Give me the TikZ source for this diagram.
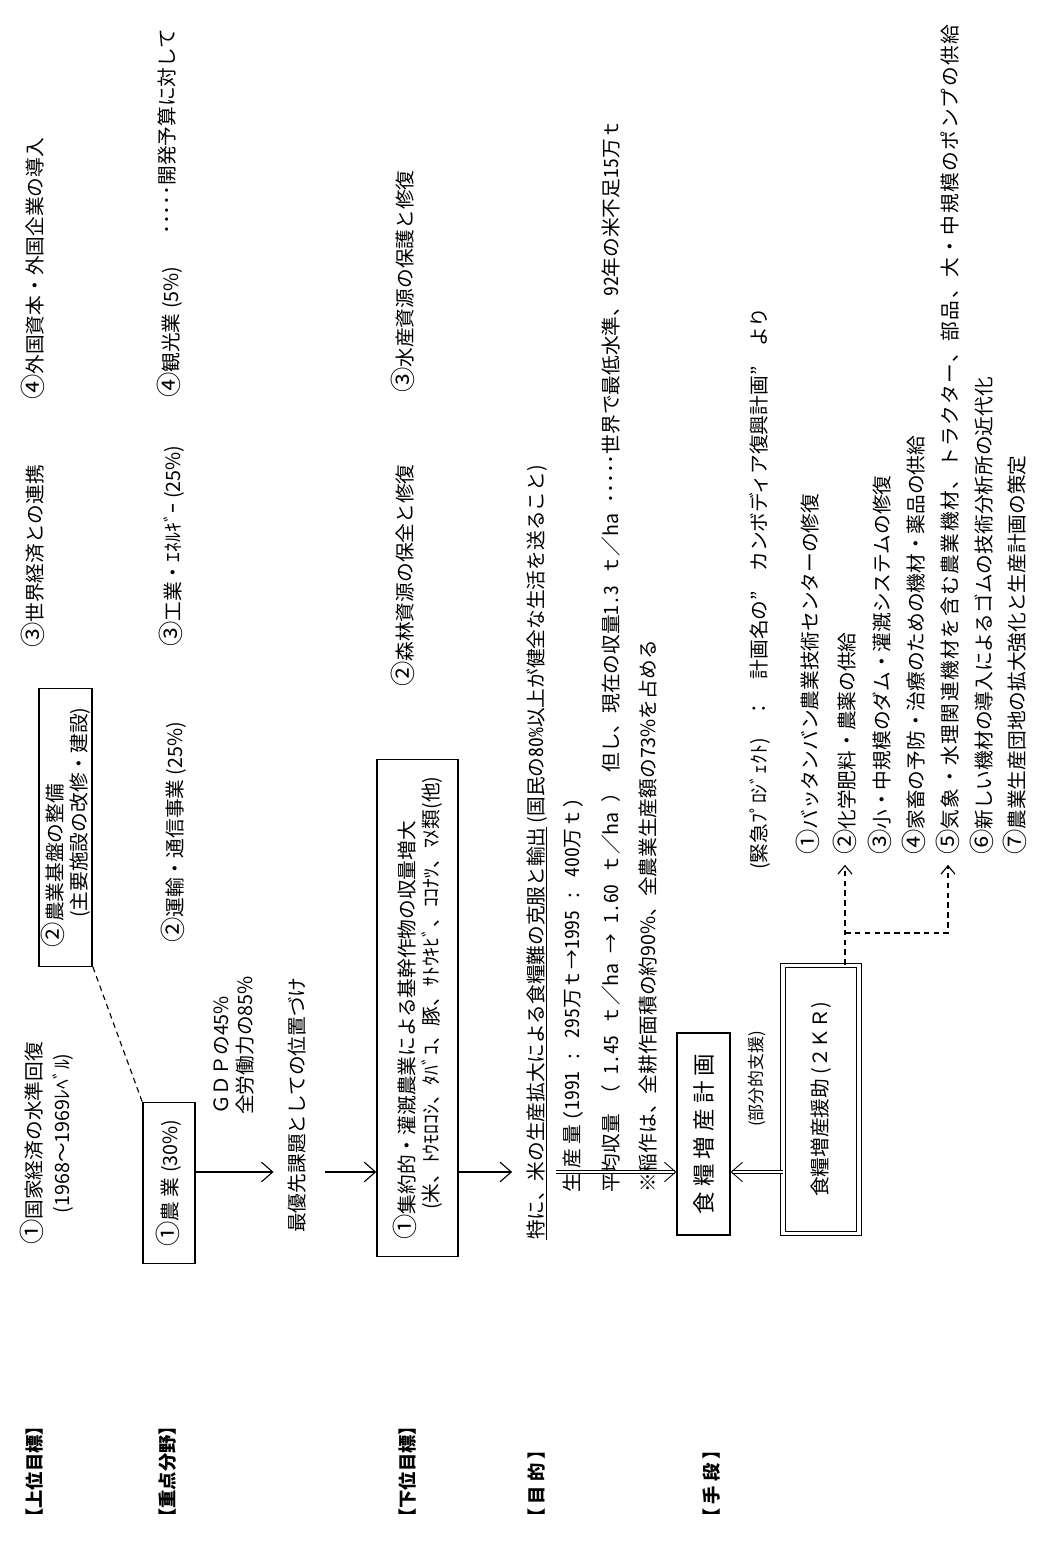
\documentclass[tikz,border=0pt]{standalone}
\usepackage{fontspec}
\setmainfont{Noto Sans CJK JP}
\newfontfamily\halfwidth{Noto Sans CJK JP}[CharacterWidth=Half]
\newfontfamily\widefont{Noto Sans CJK JP}[LetterSpace=8]
\newcommand{\hwd}[1]{{\halfwidth #1}}
\newcommand{\cn}[1]{{\fontsize{18}{18}\selectfont #1}}
\usepackage{tikz}
\usetikzlibrary{positioning, arrows.meta, calc}

\begin{document}
\begin{tikzpicture}[
    x=0.025cm, y=0.025cm,
    rotate=90, transform shape,
    every node/.style={align=left, inner sep=0pt, anchor=west, font=\fontsize{14}{19.9}\selectfont},
    rowlabel/.style={font=\fontsize{13}{15}\selectfont\bfseries},
    goalbox/.style={draw, rectangle, line width=1pt, inner xsep=12pt, inner ysep=1.5pt, font=\fontsize{14}{17}\selectfont},
    aidbox/.style={draw, rectangle, double, double distance=2.2pt, line width=0.7pt, anchor=center},
    arrow/.style={-{Straight Barb[length=8pt, width=14pt]}, line width=0.8pt},
    dblarrow/.style={-{Straight Barb[length=8pt, width=14pt]}, double, double distance=1.5pt, line width=0.6pt},
    dasharrow/.style={-{Straight Barb[length=6pt, width=10pt]}, line width=0.8pt, dash pattern=on 4pt off 3pt},
]
% page frame (the sheet lies on its side)
\fill[white] (0,0) rectangle (1545,-1038);
\useasboundingbox (0,0) rectangle (1545,-1038);
\coordinate (axis) at (373,0);

% Row labels
\node[rowlabel] (lupper) at (18,-35) {【上位目標】};
\node[rowlabel] (lfocus) at (18,-168) {【重点分野】};
\node[rowlabel] (llower) at (18,-408) {【下位目標】};
\node[rowlabel] (laim) at (18,-537) {【 目 的 】};
\node[rowlabel] (lmeans) at (18,-712) {【 手 段 】};

% Upper goals
\node (economy) at (300,-47) {\cn{①}国家経済の水準回復\\\hspace*{1.6em}(1968～1969ﾚﾍﾞﾙ)};
\node[goalbox, inner xsep=13.5pt] (base) at (578,-65.5) {\cn{②}農業基盤の整備\\\hspace*{1.5em}(主要施設の改修・建設)};
\node (world) at (897,-33) {\cn{③}世界経済との連携};
\node (invest) at (1145,-33) {\cn{④}外国資本・外国企業の導入};

% Priority sectors
\node[goalbox, anchor=center, minimum width=3.75cm, minimum height=1.3cm] (agri) at (362,-169) {\cn{①}農 業 (30\%)};
\node[font=\fontsize{14}{17}\selectfont] (gdp) at (430,-234) {ＧＤＰの45\%\\全労働力の85\%};
\node (transport) at (602,-174) {\cn{②}運輸・通信事業 (25\%)};
\node (industry) at (898,-172) {\cn{③}工業・ｴﾈﾙｷﾞｰ (25\%)};
\node (tourism) at (1147,-170) {\cn{④}観光業 (5\%)};
\node (budget) at (1310,-167) {･････開発予算に対して};
\node (prio) at (312,-297) {最優先課題としての位置づけ};

% Lower goals
\node[goalbox, minimum height=2.025cm] (lower) at (288,-417.5) {\cn{①}集約的・灌漑農業による基幹作物の収量増大\\\hspace*{1.5em}(米、ﾄｳﾓﾛｺｼ、ﾀﾊﾞｺ、豚、ｻﾄｳｷﾋﾞ、ｺｺﾅﾂ、ﾏﾒ類(他)};
\node (forest) at (858,-403) {\cn{②}森林資源の保全と修復};
\node (fishery) at (1152,-403) {\cn{③}水産資源の保護と修復};

% Purpose
\node (purpose) at (305,-537) {\underline{特に、米の生産拡大による食糧難の克服と輸出} (国民の\hwd{80\%}以上が健全な生活を送ること)};
\node (output) at (352,-573) {生 産 量 \hwd{(1991 : 295}万ｔ→\hwd{1995 : 400}万ｔ\hwd{)}};
\node (yield) at (352,-611) {平均収量\hwd{ }（\hwd{ 1.45 }ｔ／ha\hwd{ }→\hwd{ 1.60 }ｔ／ha\hwd{ }）\hwd{ }但し、現在の収量\hwd{1.3 }ｔ／ha\hwd{ ･････}世界で最低水準、\hwd{92}年の米不足\hwd{15}万ｔ};
\node (rice) at (352,-648) {※稲作は、全耕作面積の約90\%、全農業生産額の73\%を占める};

% Means
\node[goalbox, anchor=center, minimum width=5.05cm, minimum height=1.325cm, font=\fontsize{16}{19}\selectfont] (plan) at (411,-703.5) {食 糧 増 産 計 画};
\node[font=\fontsize{12}{14}\selectfont] (partial) at (418,-757) {(部分的支援)};
\node[aidbox, minimum width=6.7cm, minimum height=1.9cm] (kr) at (445.5,-821) {食糧増産援助 (２ＫＲ)};
\node (emergency) at (675,-760) {(緊急ﾌﾟﾛｼﾞｪｸﾄ)　：　計画名の"　カンボディア復興計画"　より};
\node (centre) at (690,-808) {\cn{①}バッタンバン農業技術センターの修復};
\node (fert) at (690,-845) {\cn{②}化学肥料・農薬の供給};
\node (dam) at (690,-880) {\cn{③}小・中規模のダム・灌漑システムの修復};
\node (vet) at (690,-914) {\cn{④}家畜の予防・治療のための機材・薬品の供給};
\node (machine) at (690,-948) {\widefont\cn{⑤}気象・水理関連機材を含む農業機材、トラクター、部品、大・中規模のポンプの供給};
\node (rubber) at (690,-982) {\cn{⑥}新しい機材の導入によるゴムの技術分析所の近代化};
\node (stats) at (690,-1015) {\cn{⑦}農業生産団地の拡大強化と生産計画の策定};

% Connectors
\draw[line width=0.8pt, dash pattern=on 4pt off 3pt] (base.south west) -- (agri.north east);
\draw[arrow, shorten >=10pt] (agri.south -| axis) -- (prio.north -| axis);
\draw[arrow, shorten <=13pt] (prio.south -| axis) -- (lower.north -| axis);
\draw[arrow, shorten >=10pt] (lower.south -| axis) -- (purpose.north -| axis);
\draw[dblarrow, shorten <=6pt] (purpose.south -| axis) -- (plan.north -| axis);
\draw[dblarrow] (kr.north -| axis) -- (plan.south -| axis);
\coordinate (fork) at (612,-845);
\draw[dasharrow, shorten >=7pt] (kr.east |- fert.west) -- (fert.west);
\draw[dasharrow, shorten >=7pt] (fork) |- (machine.west);
\end{tikzpicture}
\end{document}
